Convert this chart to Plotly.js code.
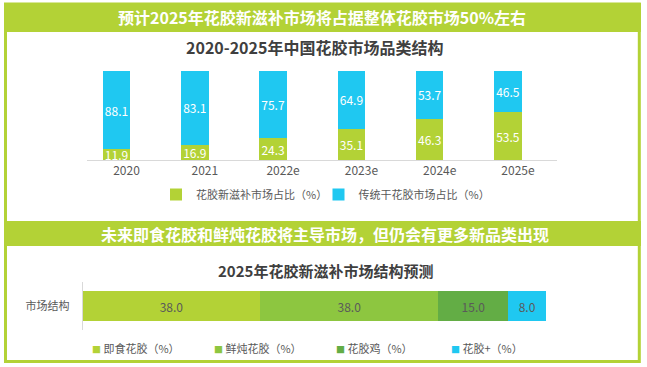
<!DOCTYPE html>
<html>
<head>
<meta charset="utf-8">
<script src="https://cdn.plot.ly/plotly-3.0.1.min.js"></script>
<style>html,body{margin:0;padding:0;background:#fff;}#chart{width:647px;height:367px;}</style>
</head>
<body>
<div id="chart"></div>
<script>
// ---- Data ----
const years = ["2020", "2021", "2022e", "2023e", "2024e", "2025e"];
const newTonicShare = [11.9, 16.9, 24.3, 35.1, 46.3, 53.5];
const traditionalShare = [88.1, 83.1, 75.7, 64.9, 53.7, 46.5];
const topSeriesNames = ["花胶新滋补市场占比（%）", "传统干花胶市场占比（%）"];

const structCategory = ["市场结构"];
const segNames = ["即食花胶（%）", "鲜炖花胶（%）", "花胶鸡（%）", "花胶+（%）"];
const segValues = [38.0, 38.0, 15.0, 8.0];

const mainTitle = "预计2025年花胶新滋补市场将占据整体花胶市场50%左右";
const subTitle1 = "2020-2025年中国花胶市场品类结构";
const mainTitle2 = "未来即食花胶和鲜炖花胶将主导市场，但仍会有更多新品类出现";
const subTitle2 = "2025年花胶新滋补市场结构预测";

// ---- Styles ----
const W = 647, H = 367;
const X = px => px / W;
const Y = py => 1 - py / H;
const GREEN = "#B3D236";
const BLUE = "#1FC8F1";
const segColors = [GREEN, "#8DC640", "#63AD45", BLUE];
const FONT = "Noto Sans CJK SC, Noto Sans, sans-serif";
const GREY = "#595959";

const traces = [
  {
    type: "bar", x: years, y: newTonicShare, name: topSeriesNames[0], legend: "legend",
    marker: {color: GREEN}, xaxis: "x", yaxis: "y",
    texttemplate: "%{y:.1f}", textposition: "inside", textangle: 0, constraintext: "none",
    insidetextanchor: "middle", textfont: {color: "#ffffff", size: 12, family: FONT},
    cliponaxis: false, hoverinfo: "skip"
  },
  {
    type: "bar", x: years, y: traditionalShare, name: topSeriesNames[1], legend: "legend2",
    marker: {color: BLUE}, xaxis: "x", yaxis: "y",
    texttemplate: "%{y:.1f}", textposition: "inside", textangle: 0, constraintext: "none",
    insidetextanchor: "middle", textfont: {color: "#ffffff", size: 12, family: FONT},
    cliponaxis: false, hoverinfo: "skip"
  }
];
segValues.forEach((v, i) => {
  traces.push({
    type: "bar", orientation: "h", x: [v], y: structCategory, name: segNames[i],
    marker: {color: segColors[i]}, xaxis: "x2", yaxis: "y2", showlegend: false, width: 0.625,
    texttemplate: "%{x:.1f}", textposition: "inside", textangle: 0, constraintext: "none",
    insidetextanchor: "middle",
    textfont: {color: "#5a5a5a", size: 12, family: FONT}, hoverinfo: "skip"
  });
});

const shapes = [
  {type: "rect", xref: "paper", yref: "paper", x0: X(5.5), x1: X(639.3), y0: Y(361.5), y1: Y(4),
   line: {color: GREEN, width: 3}, fillcolor: "rgba(0,0,0,0)", layer: "below"},
  {type: "rect", xref: "paper", yref: "paper", x0: X(4), x1: X(641), y0: Y(32), y1: Y(3),
   line: {width: 0}, fillcolor: GREEN, layer: "below"},
  {type: "rect", xref: "paper", yref: "paper", x0: X(4), x1: X(641), y0: Y(246), y1: Y(221),
   line: {width: 0}, fillcolor: GREEN, layer: "below"}
];

const annotations = [
  {text: "<b>" + mainTitle + "</b>", x: X(322), y: Y(17.5), xref: "paper", yref: "paper",
   showarrow: false, font: {family: FONT, size: 16, color: "#ffffff"}, xanchor: "center", yanchor: "middle"},
  {text: "<b>" + subTitle1 + "</b>", x: X(314), y: Y(47), xref: "paper", yref: "paper",
   showarrow: false, font: {family: FONT, size: 16, color: "#3f3f3f"}, xanchor: "center", yanchor: "middle"},
  {text: "<b>" + mainTitle2 + "</b>", x: X(325), y: Y(233.5), xref: "paper", yref: "paper",
   showarrow: false, font: {family: FONT, size: 16, color: "#ffffff"}, xanchor: "center", yanchor: "middle"},
  {text: "<b>" + subTitle2 + "</b>", x: X(325), y: Y(270), xref: "paper", yref: "paper",
   showarrow: false, font: {family: FONT, size: 15, color: "#3f3f3f"}, xanchor: "center", yanchor: "middle"}
];
const legendX = [90, 212, 334, 449];
segNames.forEach((n, i) => {
  annotations.push({
    text: '<span style="color:' + segColors[i] + ';font-size:9px">■</span> ' + n,
    x: X(legendX[i]), y: Y(348), xref: "paper", yref: "paper", showarrow: false,
    xanchor: "left", yanchor: "middle", font: {family: FONT, size: 11, color: GREY}
  });
});

const catStep = 78.3;
const legendStyle = (xpx) => ({
  orientation: "h", x: X(xpx), y: Y(194.5), xanchor: "left", yanchor: "middle",
  traceorder: "normal",
  font: {size: 11, color: GREY, family: FONT}, bgcolor: "rgba(0,0,0,0)", borderwidth: 0
});
const layout = {
  width: W, height: H,
  margin: {l: 0, r: 0, t: 0, b: 0, pad: 0},
  paper_bgcolor: "#ffffff", plot_bgcolor: "rgba(0,0,0,0)",
  barmode: "stack", bargap: 0.65,
  font: {family: FONT, color: GREY},
  showlegend: true,
  xaxis: {
    domain: [X(87), X(557)], anchor: "y",
    range: [(87 - 116.5) / catStep, 5 + (557 - 508) / catStep],
    type: "category", showline: true, linecolor: "#d9d9d9", linewidth: 1,
    showgrid: false, zeroline: false, ticks: "", ticklabelshift: 10,
    tickfont: {size: 12, color: GREY, family: FONT}, fixedrange: true
  },
  yaxis: {
    domain: [Y(160), Y(71)], anchor: "x", range: [0, 100], visible: false, fixedrange: true
  },
  xaxis2: {
    domain: [X(82.6), X(82.6 + 468)], anchor: "y2", range: [0, 100], visible: false, fixedrange: true
  },
  yaxis2: {
    domain: [Y(330), Y(282)], anchor: "x2", type: "category", range: [-0.5, 0.5],
    showline: true, linecolor: "#d9d9d9", linewidth: 1, showgrid: false, zeroline: false,
    ticks: "", ticklabelstandoff: 10, tickfont: {size: 11, color: GREY, family: FONT}, fixedrange: true
  },
  legend: legendStyle(156),
  legend2: legendStyle(318.5),
  shapes: shapes,
  annotations: annotations
};

Plotly.newPlot("chart", traces, layout, {displayModeBar: false, staticPlot: true});
</script>
</body>
</html>
